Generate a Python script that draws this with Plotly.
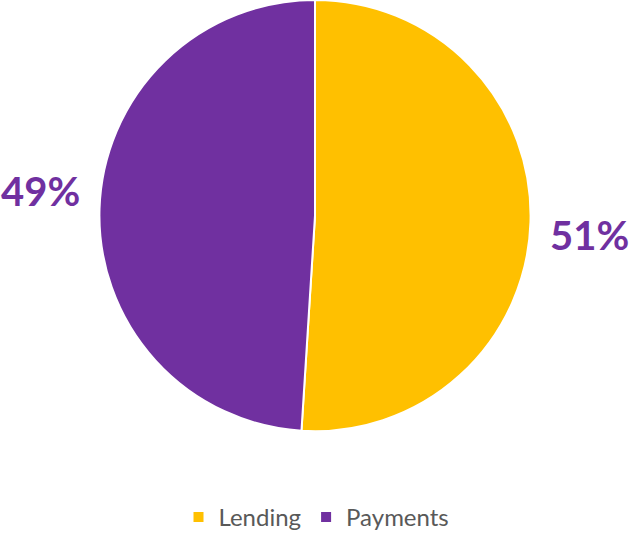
import math
import plotly.graph_objects as go

categories = ["Lending", "Payments"]
shares = [51, 49]
colors = ["#FFC000", "#7030A0"]

W, H = 633, 540
# pie placement in pixels
cx, cy, R = 315, 218, 218
dom_x = [max(0, (cx - R) / W), min(1, (cx + R) / W)]
dom_y = [max(0, 1 - (cy + R) / H), min(1, 1 - (cy - R) / H)]

fig = go.Figure(
    go.Pie(
        labels=categories,
        values=shares,
        marker=dict(colors=colors, line=dict(color="white", width=2)),
        sort=False,
        direction="clockwise",
        rotation=0,
        textinfo="none",
        hoverinfo="label+percent",
        domain=dict(x=dom_x, y=dom_y),
    )
)

# percentage labels outside each slice, at the slice's mid-angle
total = sum(shares)
start = 0.0
label_r = 1.26 * R
nudges = [-11, 16]
for val, nudge in zip(shares, nudges):
    frac = val / total
    mid = (start + frac / 2) * 2 * math.pi  # clockwise from 12 o'clock
    start += frac
    px = cx + label_r * math.sin(mid)
    py = cy - label_r * math.cos(mid)
    fig.add_annotation(
        x=px / W,
        y=1 - py / H,
        xref="paper",
        yref="paper",
        text=f"<b>{round(frac * 100)}%</b>",
        showarrow=False,
        xanchor="center",
        yanchor="middle",
        yshift=nudge,
        font=dict(family="Lato", size=40, color="#7030A0"),
    )

fig.update_layout(
    width=W,
    height=H,
    margin=dict(l=0, r=0, t=0, b=0),
    paper_bgcolor="white",
    plot_bgcolor="white",
    showlegend=True,
    legend=dict(
        orientation="h",
        x=0.5,
        xanchor="center",
        y=0.03,
        yanchor="middle",
        font=dict(family="Lato", size=24, color="#595959"),
    ),
)

fig.write_html("out.html")
